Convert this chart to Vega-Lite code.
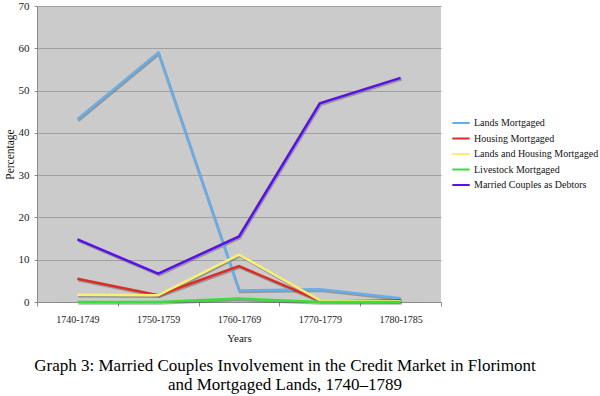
{
  "$schema": "https://vega.github.io/schema/vega-lite/v6.json",
  "autosize": {"type": "none"},
  "padding": {"left": 37, "top": 6, "right": 159, "bottom": 94},
  "width": 404,
  "height": 296,
  "background": "white",
  "config": {
    "font": "Liberation Serif",
    "view": {"fill": "#cbcbcb", "stroke": null},
    "axis": {"labelFont": "Liberation Serif", "titleFont": "Liberation Serif", "labelColor": "#222222", "titleColor": "#111111", "titleFontWeight": "normal"},
    "legend": {"labelFont": "Liberation Serif"},
    "text": {"font": "Liberation Serif"}
  },
  "title": {
    "text": ["Graph 3: Married Couples Involvement in the Credit Market in Florimont", "and Mortgaged Lands, 1740–1789"],
    "orient": "bottom",
    "anchor": "middle",
    "frame": "group",
    "dx": 46,
    "offset": 15,
    "font": "Liberation Serif",
    "fontSize": 17,
    "fontWeight": "normal",
    "color": "#000000",
    "lineHeight": 19
  },
  "data": {
    "values": [
      {"period": "1740-1749", "series": "Lands Mortgaged", "value": 43.2},
      {"period": "1750-1759", "series": "Lands Mortgaged", "value": 59.0},
      {"period": "1760-1769", "series": "Lands Mortgaged", "value": 2.7},
      {"period": "1770-1779", "series": "Lands Mortgaged", "value": 3.0},
      {"period": "1780-1785", "series": "Lands Mortgaged", "value": 0.9},
      {"period": "1740-1749", "series": "Housing Mortgaged", "value": 5.5},
      {"period": "1750-1759", "series": "Housing Mortgaged", "value": 1.6},
      {"period": "1760-1769", "series": "Housing Mortgaged", "value": 8.5},
      {"period": "1770-1779", "series": "Housing Mortgaged", "value": 0.3},
      {"period": "1780-1785", "series": "Housing Mortgaged", "value": 0.4},
      {"period": "1740-1749", "series": "Lands and Housing Mortgaged", "value": 1.7},
      {"period": "1750-1759", "series": "Lands and Housing Mortgaged", "value": 1.6},
      {"period": "1760-1769", "series": "Lands and Housing Mortgaged", "value": 11.2},
      {"period": "1770-1779", "series": "Lands and Housing Mortgaged", "value": 0.4},
      {"period": "1780-1785", "series": "Lands and Housing Mortgaged", "value": 0.2},
      {"period": "1740-1749", "series": "Livestock Mortgaged", "value": 0.0},
      {"period": "1750-1759", "series": "Livestock Mortgaged", "value": 0.0},
      {"period": "1760-1769", "series": "Livestock Mortgaged", "value": 0.8},
      {"period": "1770-1779", "series": "Livestock Mortgaged", "value": 0.0},
      {"period": "1780-1785", "series": "Livestock Mortgaged", "value": 0.0},
      {"period": "1740-1749", "series": "Married Couples as Debtors", "value": 14.8},
      {"period": "1750-1759", "series": "Married Couples as Debtors", "value": 6.7},
      {"period": "1760-1769", "series": "Married Couples as Debtors", "value": 15.5},
      {"period": "1770-1779", "series": "Married Couples as Debtors", "value": 47.0},
      {"period": "1780-1785", "series": "Married Couples as Debtors", "value": 53.0}
    ]
  },
  "encoding": {
    "x": {
      "field": "period",
      "type": "ordinal",
      "bandPosition": 0.5,
      "scale": {"type": "band", "paddingInner": 0, "paddingOuter": 0},
      "axis": {
        "title": "Years",
        "labelFont": "Liberation Serif",
        "titleFont": "Liberation Serif",
        "labelAngle": 0,
        "labelFontSize": 10,
        "labelPadding": 8,
        "tickBand": "extent",
        "tickSize": 4,
        "tickColor": "#8a8a8a",
        "domainColor": "#8a8a8a",
        "titleFontSize": 11,
        "titlePadding": 8,
        "grid": false
      }
    },
    "y": {
      "field": "value",
      "type": "quantitative",
      "scale": {"domain": [0, 70]},
      "axis": {
        "title": "Percentage",
        "labelFont": "Liberation Serif",
        "titleFont": "Liberation Serif",
        "values": [0, 10, 20, 30, 40, 50, 60, 70],
        "labelFontSize": 11,
        "labelPadding": 5,
        "tickSize": 3,
        "tickColor": "#8a8a8a",
        "domainColor": "#8a8a8a",
        "gridColor": "#a0a0a0",
        "gridWidth": 1,
        "titleFontSize": 11.5,
        "titlePadding": 3
      }
    }
  },
  "layer": [
    {
      "mark": {"type": "line", "stroke": "#555555", "strokeWidth": 2.5, "opacity": 0.45, "xOffset": 1, "yOffset": 1.5},
      "encoding": {"detail": {"field": "series"}}
    },
    {
      "mark": {"type": "line", "strokeWidth": 2.5},
      "encoding": {
        "color": {
          "field": "series",
          "type": "nominal",
          "sort": ["Lands Mortgaged", "Housing Mortgaged", "Lands and Housing Mortgaged", "Livestock Mortgaged", "Married Couples as Debtors"],
          "scale": {
            "domain": ["Lands Mortgaged", "Housing Mortgaged", "Lands and Housing Mortgaged", "Livestock Mortgaged", "Married Couples as Debtors"],
            "range": ["#67aee9", "#de2b26", "#f9ef74", "#3ade3a", "#5a10ea"]
          },
          "legend": {
            "title": null,
            "orient": "none",
            "legendX": 414,
            "legendY": 107,
            "symbolType": "stroke",
            "symbolSize": 300,
            "symbolStrokeWidth": 2,
            "labelFont": "Liberation Serif",
            "labelFontSize": 10,
            "labelColor": "#111111",
            "labelOffset": 3,
            "labelLimit": 200,
            "rowPadding": 0.5
          }
        }
      }
    }
  ]
}
